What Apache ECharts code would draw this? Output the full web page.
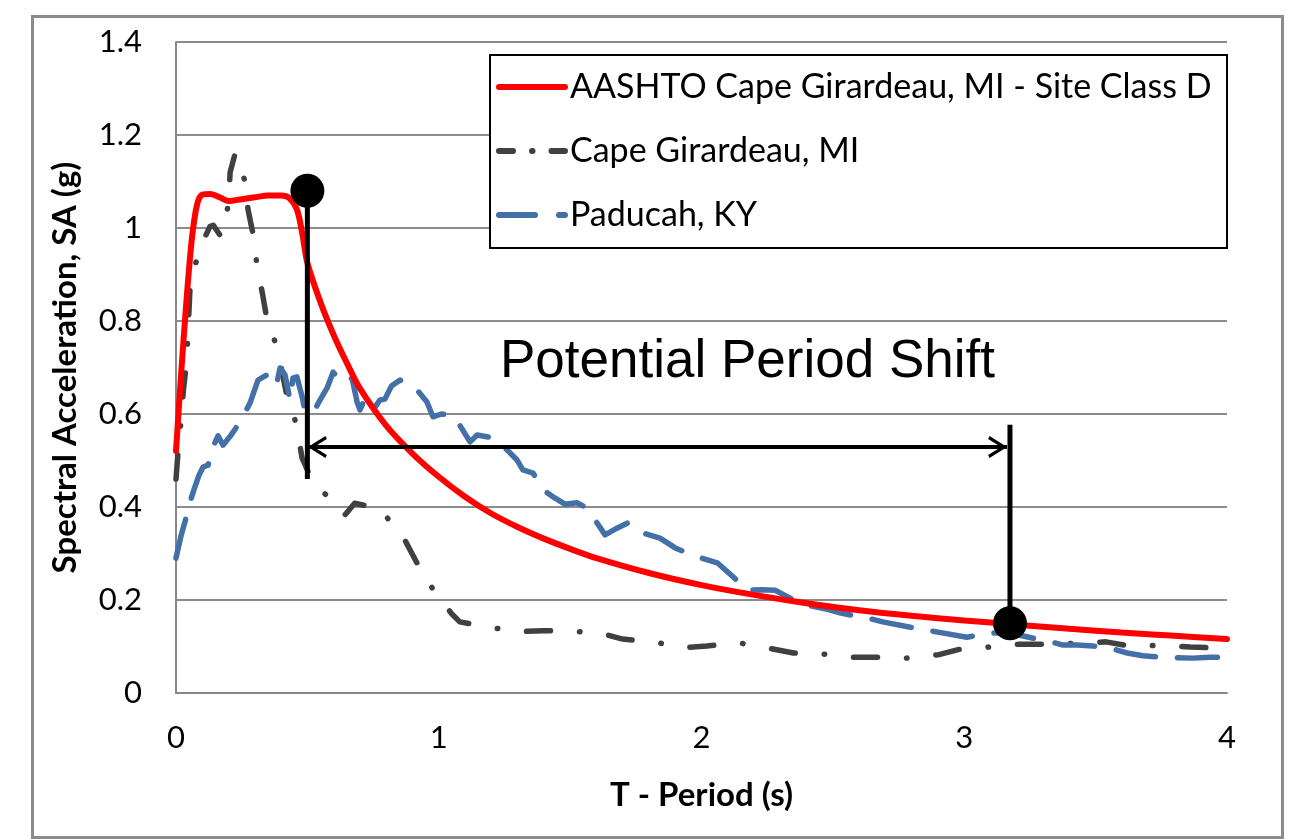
<!DOCTYPE html>
<html><head><meta charset="utf-8">
<script src="https://cdn.jsdelivr.net/npm/echarts@6/dist/echarts.min.js"></script>
<style>html,body{margin:0;padding:0;background:#fff}#c{width:1304px;height:839px}</style>
</head><body><div id="c"></div>
<script>
const xTicks = [0, 1, 2, 3, 4];
const yTicks = [0, 0.2, 0.4, 0.6, 0.8, 1, 1.2, 1.4];
const seriesNames = ['AASHTO Cape Girardeau, MI - Site Class D', 'Cape Girardeau, MI', 'Paducah, KY'];
const aashto = [[0,0.52],[0.02,0.69],[0.04,0.845],[0.06,0.975],[0.08,1.05],[0.1,1.072],[0.13,1.073],[0.17,1.065],[0.2,1.058],[0.25,1.062],[0.3,1.066],[0.35,1.07],[0.4,1.07],[0.43,1.065],[0.46,1.04],[0.48,0.99],[0.5,0.925],[0.55,0.84],[0.6,0.77],[0.65,0.71],[0.7,0.655],[0.8,0.575],[0.9,0.515],[1.0,0.465],[1.1,0.422],[1.2,0.386],[1.3,0.357],[1.4,0.332],[1.5,0.31],[1.6,0.29],[1.8,0.258],[2.0,0.232],[2.2,0.211],[2.4,0.193],[2.6,0.178],[2.8,0.166],[3.0,0.156],[3.2,0.147],[3.4,0.138],[3.6,0.13],[3.8,0.123],[4.0,0.116]];
const capeGirardeau = [[0,0.46],[0.008,0.52],[0.02,0.59],[0.028,0.65],[0.04,0.71],[0.045,0.77],[0.05,0.83],[0.055,0.89],[0.084,0.94],[0.11,0.98],[0.129,1.003],[0.142,1.006],[0.167,0.985],[0.18,0.989],[0.2,1.055],[0.206,1.12],[0.225,1.16],[0.263,1.10],[0.274,1.04],[0.294,0.985],[0.308,0.92],[0.33,0.856],[0.347,0.80],[0.384,0.745],[0.42,0.645],[0.434,0.63],[0.46,0.57],[0.48,0.505],[0.52,0.454],[0.582,0.42],[0.624,0.398],[0.643,0.383],[0.68,0.408],[0.78,0.396],[0.845,0.344],[0.87,0.33],[0.898,0.30],[0.948,0.247],[1.016,0.194],[1.05,0.17],[1.08,0.153],[1.187,0.142],[1.3,0.132],[1.4,0.134],[1.5,0.133],[1.614,0.129],[1.7,0.116],[1.82,0.11],[1.93,0.097],[2.02,0.101],[2.14,0.108],[2.25,0.097],[2.35,0.086],[2.46,0.084],[2.565,0.077],[2.67,0.077],[2.78,0.075],[2.9,0.082],[2.99,0.095],[3.1,0.099],[3.21,0.105],[3.33,0.105],[3.43,0.107],[3.54,0.11],[3.64,0.10],[3.75,0.103],[3.86,0.099],[4.0,0.096]];
const paducah = [[0,0.29],[0.02,0.34],[0.035,0.37],[0.053,0.41],[0.07,0.44],[0.088,0.469],[0.103,0.486],[0.122,0.49],[0.141,0.529],[0.16,0.553],[0.179,0.533],[0.21,0.555],[0.244,0.583],[0.282,0.624],[0.312,0.673],[0.346,0.684],[0.365,0.69],[0.384,0.667],[0.396,0.699],[0.415,0.684],[0.434,0.63],[0.445,0.677],[0.46,0.68],[0.48,0.637],[0.49,0.609],[0.52,0.6],[0.548,0.63],[0.575,0.656],[0.598,0.69],[0.632,0.667],[0.67,0.677],[0.69,0.624],[0.70,0.609],[0.72,0.634],[0.74,0.637],[0.757,0.615],[0.776,0.63],[0.795,0.632],[0.82,0.66],[0.853,0.673],[0.89,0.658],[0.917,0.652],[0.955,0.626],[0.978,0.594],[1.01,0.6],[1.05,0.598],[1.08,0.576],[1.119,0.54],[1.146,0.555],[1.195,0.55],[1.23,0.535],[1.26,0.523],[1.298,0.501],[1.32,0.48],[1.359,0.473],[1.397,0.437],[1.44,0.42],[1.48,0.406],[1.526,0.409],[1.564,0.398],[1.633,0.34],[1.68,0.355],[1.72,0.366],[1.777,0.344],[1.842,0.333],[1.9,0.312],[1.95,0.3],[2.0,0.29],[2.06,0.28],[2.12,0.25],[2.173,0.221],[2.23,0.222],[2.28,0.221],[2.337,0.204],[2.40,0.189],[2.48,0.18],[2.53,0.172],[2.584,0.166],[2.64,0.16],[2.69,0.153],[2.79,0.142],[2.85,0.136],[2.9,0.131],[3.01,0.12],[3.1,0.129],[3.16,0.129],[3.22,0.123],[3.33,0.11],[3.376,0.103],[3.43,0.103],[3.49,0.101],[3.54,0.099],[3.62,0.086],[3.68,0.08],[3.75,0.077],[3.81,0.076],[3.87,0.075],[3.935,0.077],[4.0,0.077]];
// annotation anchors (data units)
const shiftDots = [[0.5,1.08],[3.174,0.15]];
const shiftLeftLine = [[0.5,1.08],[0.5,0.46]];
const shiftRightLine = [[3.174,0.577],[3.174,0.15]];
const shiftArrowLine = [[0.502,0.529],[3.163,0.529]];
const shiftArrowHeads = [[0.538,0.529],[3.127,0.529]];
const annotationText = 'Potential Period Shift';

const FONT = 'Lato';
const RED = '#ff0000', GRAY = '#404040', BLUE = '#4470a8';
const chevron = 'path://M0,19 L11,0 L22,19 L19,20.5 L11,6.5 L3,20.5 Z';
const hiddenSym = {color:'rgba(0,0,0,0)',borderColor:'rgba(0,0,0,0)',borderWidth:0};
const chart = echarts.init(document.getElementById('c'), null, {renderer:'canvas'});
chart.setOption({
  animation:false,
  backgroundColor:'#fff',
  grid:{left:176,right:77,top:42,bottom:146,outerBoundsMode:'none',containLabel:false},
  xAxis:{type:'value',min:xTicks[0],max:xTicks[xTicks.length-1],interval:1,
    name:'T - Period (s)',nameLocation:'middle',nameGap:86,
    nameTextStyle:{fontFamily:FONT,fontWeight:'bold',fontSize:33,color:'#000'},
    axisLine:{show:true,onZero:false,lineStyle:{color:'#878787',width:2}},
    axisTick:{show:false},splitLine:{show:false},
    axisLabel:{fontFamily:FONT,fontSize:31,color:'#000',margin:29}},
  yAxis:{type:'value',min:yTicks[0],max:yTicks[yTicks.length-1],interval:0.2,
    name:'Spectral Acceleration, SA (g)',nameLocation:'middle',nameGap:94,nameRotate:90,
    nameTextStyle:{fontFamily:FONT,fontWeight:'bold',fontSize:33,color:'#000'},
    axisLine:{show:true,lineStyle:{color:'#878787',width:2}},
    axisTick:{show:false},
    splitLine:{show:true,lineStyle:{color:'#8c8c8c',width:2}},
    axisLabel:{fontFamily:FONT,fontSize:31,color:'#000',margin:34}},
  legend:{orient:'vertical',left:496,top:70,itemGap:30,itemWidth:66,itemHeight:14,z:20,
    textStyle:{fontFamily:FONT,fontSize:34,color:'#000'},padding:0,
    data:[
      {name:seriesNames[0],itemStyle:hiddenSym,lineStyle:{color:RED,width:6,type:'solid',cap:'round'}},
      {name:seriesNames[1],itemStyle:hiddenSym,lineStyle:{color:GRAY,width:6,type:[14,19,0.5,19],cap:'round'}},
      {name:seriesNames[2],itemStyle:hiddenSym,lineStyle:{color:BLUE,width:6,type:[36,24],cap:'round'}}
    ]},
  graphic:[
    {type:'rect',left:30,top:14,shape:{width:1250,height:821},style:{fill:null,stroke:'#8c8c8c',lineWidth:3},silent:true,z:-10},
    {type:'rect',left:489,top:54,shape:{width:737,height:193},style:{fill:'#fff',stroke:'#000',lineWidth:2},silent:true,z:5},
    {type:'text',left:500,top:336,style:{text:annotationText,font:'53px "Liberation Sans", Arial, sans-serif',fill:'#000'},z:20}
  ],
  series:[
    {name:seriesNames[0],type:'line',data:aashto,symbol:'none',smooth:0.3,z:3,
      lineStyle:{color:RED,width:6,cap:'round'},itemStyle:{color:RED}},
    {name:seriesNames[1],type:'line',data:capeGirardeau,symbol:'none',z:2,
      lineStyle:{color:GRAY,width:5.5,type:[24,29,0.5,29],cap:'round',join:'round'},itemStyle:{color:GRAY}},
    {name:seriesNames[2],type:'line',data:paducah,symbol:'none',z:2,
      lineStyle:{color:BLUE,width:5.5,type:[40,22],cap:'round',join:'round'},itemStyle:{color:BLUE}},
    {name:'leftLine',type:'line',data:shiftLeftLine,symbol:'none',z:8,lineStyle:{color:'#000',width:5}},
    {name:'rightLine',type:'line',data:shiftRightLine,symbol:'none',z:8,lineStyle:{color:'#000',width:5}},
    {name:'arrowLine',type:'line',data:shiftArrowLine,symbol:'none',z:8,lineStyle:{color:'#000',width:4}},
    {name:'dots',type:'scatter',data:shiftDots,symbolSize:34,z:9,itemStyle:{color:'#000',opacity:1}},
    {name:'arrow',type:'line',data:[],z:8,
      markLine:{silent:true,symbol:[chevron,chevron],symbolSize:[22,19],
        lineStyle:{color:'#000',width:4,type:'solid'},label:{show:false},
        data:[[{coord:shiftArrowHeads[0]},{coord:shiftArrowHeads[1]}]]}}
  ]
});
</script></body></html>
